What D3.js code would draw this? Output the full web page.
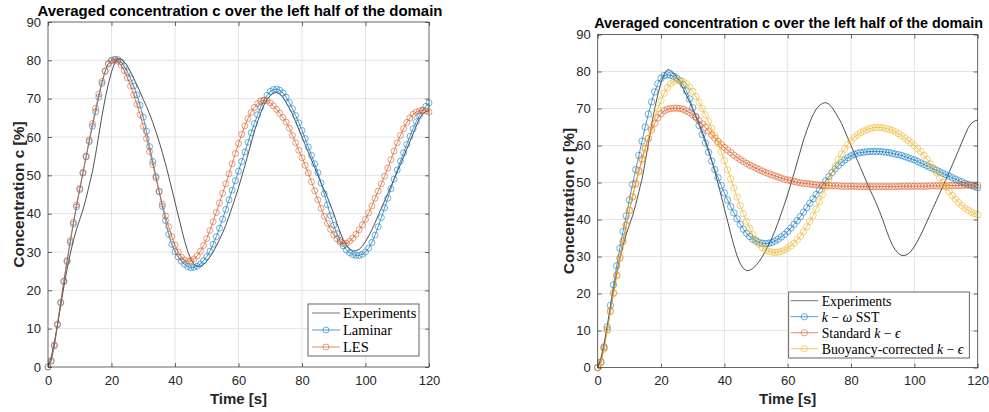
<!DOCTYPE html>
<html><head><meta charset="utf-8">
<script src="https://cdn.jsdelivr.net/npm/d3@7"></script>
<style>body{margin:0;background:#fff}svg{display:block}</style>
</head><body>
<svg id="chart" width="989" height="412"></svg>
<script>
// ---------- data ----------
const time = d3.range(0, 121); // sample times [s], 1 s step
const experiments = [
0,2.5,6.5,11,16,21,25.5,29.5,33,36,
38.5,41,44,47.5,51,55.5,60.5,65.5,70,73.8,
77,79.3,80.5,80.3,79.6,78.5,77,75.3,73.6,71.8,
69.8,68,66,63.8,61.4,58.8,56,53,49.8,46.4,
43,39.6,36.2,33,30.2,28.1,26.8,26.2,26.3,26.8,
27.6,28.7,30,31.5,33.2,35,37,39.3,41.7,44.2,
46.8,49.6,52.5,55.5,58.5,61.5,64,66.3,68.3,69.8,
70.8,71.4,71.6,71.2,70.3,69,67.5,66,64,62,
60,58,56,54,52,50,48,46.2,44.3,42.2,
40,37.5,35.2,33.2,31.8,30.8,30.3,30.3,30.7,31.5,
32.7,34.2,35.8,37.6,39.5,41.4,43.3,45.2,47.1,49,
50.9,52.8,54.8,56.8,58.8,60.9,62.9,64.8,66,66.6,66.9];
const laminar = [
0,1.5,5.5,11,16.8,22.3,27.5,32.5,37.3,41.8,
46.3,50.6,54.8,58.8,62.8,66.6,70.4,74,77.2,79.2,
80,80.3,80.2,79.6,78.5,77,75.3,73.3,71,68.3,
65.2,61.5,57.5,53.6,49.7,45.8,41.9,38.2,34.6,32,
30.1,28.7,27.6,26.8,26.2,25.9,26,26.3,26.9,27.7,
28.8,30.2,32,34,36.2,38.6,41.1,43.6,46.1,48.6,
51.1,53.6,56.1,58.6,61.1,63.5,65.8,67.8,69.5,70.9,
71.9,72.4,72.5,72.2,71.5,70.4,69,67.4,65.6,63.7,
61.7,59.6,57.4,55.2,53,50.7,48,45.2,42.3,39.5,
37,34.8,33,31.6,30.5,29.8,29.3,29.1,29.1,29.4,
30,31,32.5,34.4,36.6,39,41.5,44,46.5,49,
51.4,53.7,55.9,58.1,60.2,62.2,64,65.6,66.9,68,68.9];
const les = [
0,1.7,5.8,11.2,16.8,22.4,27.8,33,37.8,42.3,
46.6,50.8,55,59.2,63.5,67.5,71.2,74.5,77.2,79,
79.9,80.1,79.8,78.8,77.3,75.4,73.3,71,68.5,65.8,
62.8,59.6,56.2,52.8,49.3,45.8,42.5,39.4,36.6,34,
31.8,30,28.7,27.9,27.6,27.7,28.2,29,30.2,31.7,
33.5,35.6,37.9,40.3,42.8,45.3,47.8,50.4,53,55.7,
58.3,60.7,62.9,64.8,66.4,67.7,68.7,69.4,69.6,69.4,
68.9,68.1,67.2,66.2,65.1,63.9,62.3,60.4,58.5,56.5,
54.6,52.6,50.6,48.3,46,43.6,41.4,39.3,37.5,35.9,
34.5,33.4,32.6,32.2,32.3,32.8,33.6,34.6,35.8,37.1,
38.5,40.2,42,44,45.9,47.8,49.8,51.9,54.1,56.3,
58.5,60.4,62.2,63.8,65,65.9,66.5,66.8,67,66.8,66.5];
const kOmegaSST = [
0,1.5,5.6,11,16.8,22.4,27.5,32.3,36.8,41,
45.3,49.5,53.5,57.3,61.2,65,68.5,71.8,74.5,76.7,
78.2,78.9,79.1,79,78.7,78.2,77.5,76.5,74.8,72.6,
70.2,67.8,65.4,63,60.7,58.2,55.8,53.5,51.3,49.2,
47.2,45.3,43.5,41.8,40.2,38.7,37.4,36.3,35.4,34.7,
34.2,33.8,33.6,33.5,33.6,33.8,34.2,34.7,35.3,36,
36.8,37.7,38.7,39.7,40.8,42,43.2,44.4,45.6,46.8,
48,49.2,50.4,51.6,52.7,53.7,54.6,55.4,56.1,56.7,
57.2,57.6,57.9,58.1,58.2,58.3,58.4,58.4,58.4,58.4,
58.3,58.2,58.1,57.9,57.7,57.5,57.3,57,56.7,56.4,
56.1,55.7,55.3,54.9,54.5,54.1,53.7,53.3,52.9,52.5,
52.1,51.7,51.3,50.9,50.5,50.2,49.8,49.5,49.2,48.9,48.6];
const standardKEps = [
0,1.5,5.3,10.3,15.3,20.2,25,29.7,34.2,38.5,
42.5,46.2,49.8,53.2,56.4,59.3,61.9,64.2,66,67.5,
68.6,69.4,69.8,70,70.1,70.1,70,69.8,69.4,68.9,
68.3,67.6,66.7,65.8,64.9,63.9,62.9,62,61.1,60.3,
59.5,58.8,58.1,57.4,56.8,56.2,55.7,55.2,54.7,54.3,
53.9,53.5,53.1,52.7,52.4,52.1,51.8,51.5,51.2,50.9,
50.7,50.5,50.3,50.1,49.9,49.8,49.7,49.6,49.5,49.4,
49.3,49.3,49.2,49.2,49.1,49.1,49.1,49,49,49,
49,49,48.9,48.9,48.9,48.9,48.9,48.9,48.9,48.9,
48.9,48.9,48.9,48.9,48.9,48.9,49,49,49,49,
49,49,49,49,49,49.1,49.1,49.1,49.1,49.1,
49.1,49.2,49.2,49.2,49.2,49.2,49.3,49.3,49.3,49.3,49.3];
const buoyancyKEps = [
0,1.3,5,10,15,20,24.8,29.5,34,38.3,
42.4,46.1,49.5,52.8,56,59,62,64.9,67.6,70,
72.2,74.1,75.6,76.7,77.3,77.6,77.6,77.3,76.7,75.8,
74.6,73.2,71.7,70,68.3,66.5,64.6,62.7,60.6,58.3,
56,53.5,51,48.5,46.1,43.8,41.6,39.5,37.6,35.9,
34.5,33.3,32.4,31.8,31.4,31.2,31.1,31.2,31.4,31.8,
32.3,32.9,33.6,34.5,35.5,36.7,38,39.5,41.1,42.9,
44.8,46.8,48.8,50.8,52.7,54.5,56.2,57.7,59.1,60.3,
61.3,62.2,62.9,63.5,63.9,64.3,64.6,64.8,64.9,64.9,
64.8,64.6,64.4,64.1,63.7,63.2,62.6,62,61.4,60.7,
60,59.2,58.4,57.4,56.3,55.1,53.9,52.6,51.3,50,
48.8,47.6,46.5,45.5,44.6,43.8,43.1,42.5,42,41.6,41.3];

const xTicks = [0, 20, 40, 60, 80, 100, 120];
const yTicks = [0, 10, 20, 30, 40, 50, 60, 70, 80, 90];
const titleText = "Averaged concentration c over the left half of the domain";
const xLabelText = "Time [s]";
const yLabelText = "Concentration c [%]";
const leftLegendLabels = [[["Experiments", false]], [["Laminar", false]], [["LES", false]]];
const rightLegendLabels = [
  [["Experiments", false]],
  [["k", true], [" \u2212 ", false], ["\u03C9", true], [" SST", false]],
  [["Standard ", false], ["k", true], [" \u2212 ", false], ["\u03F5", true]],
  [["Buoyancy-corrected ", false], ["k", true], [" \u2212 ", false], ["\u03F5", true]]
];

// ---------- styles ----------
const C_EXP = "#262626", C_BLUE = "#0072BD", C_ORANGE = "#D95319", C_YELLOW = "#EDB120";
const SANS = "'Liberation Sans', Arial, Helvetica, sans-serif";
const SERIF = "'Liberation Serif', 'Times New Roman', serif";

const svg = d3.select("#chart");

function drawPanel(p) {
  const x = d3.scaleLinear().domain([0, 120]).range([p.left, p.right]);
  const y = d3.scaleLinear().domain([0, 90]).range([p.bottom, p.top]);
  const g = svg.append("g");

  // grid
  g.append("g").selectAll("line").data(xTicks.slice(1, -1)).join("line")
    .attr("x1", d => x(d)).attr("x2", d => x(d)).attr("y1", p.top).attr("y2", p.bottom)
    .attr("stroke", "#e4e4e4").attr("stroke-width", 1);
  g.append("g").selectAll("line").data(yTicks.slice(1, -1)).join("line")
    .attr("y1", d => y(d)).attr("y2", d => y(d)).attr("x1", p.left).attr("x2", p.right)
    .attr("stroke", "#e4e4e4").attr("stroke-width", 1);

  // series
  const clipId = "clip" + p.id;
  svg.append("clipPath").attr("id", clipId).append("rect")
    .attr("x", p.left - 5).attr("y", p.top).attr("width", p.right - p.left + 10).attr("height", p.bottom - p.top + 5);
  const sg = g.append("g").attr("clip-path", `url(#${clipId})`);
  p.series.forEach(s => {
    const line = d3.line().x((d, i) => x(time[i])).y(d => y(d));
    sg.append("path").datum(s.data).attr("d", line)
      .attr("fill", "none").attr("stroke", s.color).attr("stroke-width", 0.8)
      .attr("stroke-opacity", s.marker ? 0.9 : 1);
    if (s.marker) {
      sg.append("g").selectAll("circle").data(s.data).join("circle")
        .attr("cx", (d, i) => x(time[i])).attr("cy", d => y(d)).attr("r", p.r)
        .attr("fill", "none").attr("stroke", s.color).attr("stroke-width", 0.7).attr("stroke-opacity", 0.8);
    }
  });

  // axes
  const axStyle = sel => {
    sel.select(".domain").remove();
    sel.selectAll(".tick line").attr("stroke", "#262626").attr("stroke-width", 0.7);
    sel.selectAll("text").attr("fill", "#262626").style("font-family", SANS).style("font-size", "13px");
  };
  g.append("g").attr("transform", `translate(0,${p.bottom})`)
    .call(d3.axisBottom(x).tickValues(xTicks).tickSizeInner(-4).tickSizeOuter(0).tickPadding(8.5)).call(axStyle);
  g.append("g").attr("transform", `translate(0,${p.top})`)
    .call(d3.axisTop(x).tickValues(xTicks).tickSizeInner(-4).tickSizeOuter(0).tickFormat("")).call(axStyle);
  g.append("g").attr("transform", `translate(${p.left},0)`)
    .call(d3.axisLeft(y).tickValues(yTicks).tickSizeInner(-4).tickSizeOuter(0).tickPadding(7)).call(axStyle);
  g.append("g").attr("transform", `translate(${p.right},0)`)
    .call(d3.axisRight(y).tickValues(yTicks).tickSizeInner(-4).tickSizeOuter(0).tickFormat("")).call(axStyle);

  g.append("rect").attr("x", p.left).attr("y", p.top).attr("width", p.right - p.left).attr("height", p.bottom - p.top)
    .attr("fill", "none").attr("stroke", "#404040").attr("stroke-width", 0.8);

  // title
  const t = g.append("text").attr("x", (p.left + p.right) / 2 + p.titleDx).attr("y", p.titleY)
    .attr("text-anchor", "middle").style("font-family", SANS).style("font-weight", "bold")
    .style("font-size", "14px").attr("fill", "#000").text(titleText);
  const w = t.node().getComputedTextLength();
  t.style("font-size", (14 * p.titleW / w).toFixed(2) + "px");

  // axis labels
  g.append("text").attr("x", (p.left + p.right) / 2).attr("y", 403.5).attr("text-anchor", "middle")
    .style("font-family", SANS).style("font-weight", "bold").style("font-size", "15px").attr("fill", "#262626")
    .text(xLabelText);
  g.append("text").attr("transform", `translate(${p.yLabelX},${(p.top + p.bottom) / 2}) rotate(-90)`)
    .attr("text-anchor", "middle")
    .style("font-family", SANS).style("font-weight", "bold").style("font-size", "15.5px").attr("fill", "#262626")
    .text(yLabelText);

  // legend
  const L = p.legend;
  const lg = g.append("g");
  lg.append("rect").attr("x", L.x0).attr("y", L.y0).attr("width", L.x1 - L.x0).attr("height", L.y1 - L.y0)
    .attr("fill", "#fff").attr("stroke", "#404040").attr("stroke-width", 0.8);
  L.labels.forEach((parts, i) => {
    const s = p.series[i];
    const cy = L.firstY + i * L.step;
    lg.append("line").attr("x1", L.lx0).attr("x2", L.lx1).attr("y1", cy).attr("y2", cy)
      .attr("stroke", s.color).attr("stroke-width", 0.8).attr("stroke-opacity", s.marker ? 0.85 : 0.8);
    if (s.marker) {
      lg.append("circle").attr("cx", (L.lx0 + L.lx1) / 2).attr("cy", cy).attr("r", p.r)
        .attr("fill", "none").attr("stroke", s.color).attr("stroke-width", 0.7).attr("stroke-opacity", 0.8);
    }
    const tx = lg.append("text").attr("x", L.tx).attr("y", cy + 4.8)
      .style("font-family", SERIF).style("font-size", L.fontSize + "px").attr("fill", "#000");
    parts.forEach(([str, it]) => {
      tx.append("tspan").text(str).style("font-style", it ? "italic" : "normal").attr("xml:space", "preserve");
    });
  });
}

drawPanel({
  id: "L", left: 48, right: 429, top: 22, bottom: 367, r: 3,
  titleY: 15.5, titleW: 405, titleDx: 1.5, yLabelX: 24,
  series: [
    { data: experiments, color: C_EXP, marker: false },
    { data: laminar, color: C_BLUE, marker: true },
    { data: les, color: C_ORANGE, marker: true }
  ],
  legend: { x0: 308, y0: 304, x1: 419, y1: 356, firstY: 313, step: 17, lx0: 312, lx1: 340, tx: 343, fontSize: 14.5, labels: leftLegendLabels }
});

drawPanel({
  id: "R", left: 597.7, right: 977.7, top: 34.5, bottom: 367.6, r: 3.2,
  titleY: 28, titleW: 389, titleDx: 1, yLabelX: 573.5,
  series: [
    { data: experiments, color: C_EXP, marker: false },
    { data: kOmegaSST, color: C_BLUE, marker: true },
    { data: standardKEps, color: C_ORANGE, marker: true },
    { data: buoyancyKEps, color: C_YELLOW, marker: true }
  ],
  legend: { x0: 788.7, y0: 292, x1: 969.3, y1: 358, firstY: 300.7, step: 16, lx0: 790.7, lx1: 818, tx: 821.7, fontSize: 13.8, labels: rightLegendLabels }
});
</script>
</body></html>
